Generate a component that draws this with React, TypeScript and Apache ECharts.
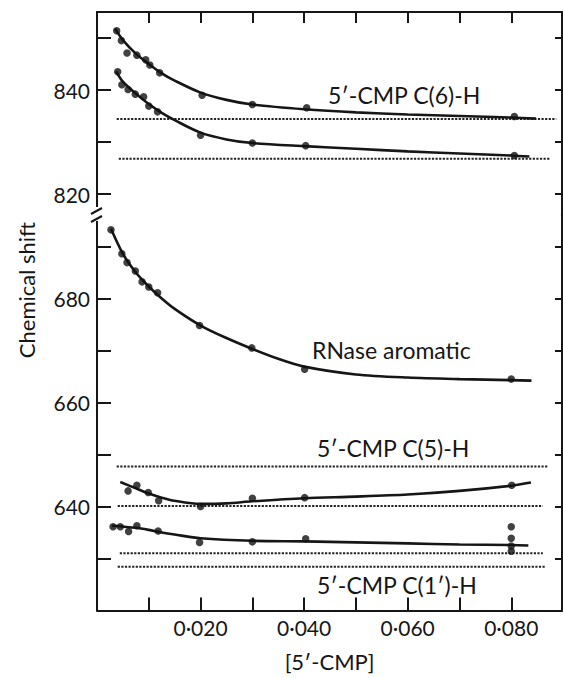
import React, { useEffect, useRef } from "react";
import * as echarts from "echarts";

// ---------- data ----------
// x = [5'-CMP] (M), y = chemical shift
const xMajorLabels = [0.02, 0.04, 0.06, 0.08];
const upperYTicks = [820, 830, 840, 850];
const upperYLabels = [820, 840];
const lowerYTicks = [630, 640, 650, 660, 670, 680, 690];
const lowerYLabels = [640, 660, 680];

// 5'-CMP C(6)-H, upper curve
const c6UpperDots = [
  [0.0038, 851.4], [0.0047, 849.5], [0.0058, 847.1], [0.0077, 846.7], [0.0094, 845.8],
  [0.0102, 844.8], [0.0121, 843.3], [0.0203, 839.0], [0.03, 837.2], [0.0405, 836.6], [0.0806, 834.9],
];
const c6UpperFit = [
  [0.0035, 851.8], [0.005, 849.6], [0.0075, 847.0], [0.01, 845.0], [0.0125, 843.2], [0.015, 841.8],
  [0.02, 839.5], [0.025, 838.1], [0.03, 837.2], [0.04, 836.3], [0.05, 835.7], [0.06, 835.3],
  [0.07, 835.0], [0.08, 834.7], [0.0848, 834.5],
];
// 5'-CMP C(6)-H, lower curve
const c6LowerDots = [
  [0.004, 843.5], [0.0048, 841.0], [0.006, 840.1], [0.0074, 839.2], [0.009, 838.7],
  [0.01, 836.9], [0.0117, 835.8], [0.02, 831.3], [0.03, 829.8], [0.0403, 829.3], [0.0806, 827.4],
];
const c6LowerFit = [
  [0.0037, 843.6], [0.005, 841.6], [0.0075, 839.3], [0.01, 837.3], [0.0125, 835.6], [0.015, 834.2],
  [0.02, 831.8], [0.025, 830.5], [0.03, 829.8], [0.04, 829.2], [0.05, 828.7], [0.06, 828.2],
  [0.07, 827.8], [0.08, 827.4], [0.0835, 827.2],
];
// RNase aromatic
const rnaseDots = [
  [0.0027, 693.2], [0.0048, 688.6], [0.0058, 686.9], [0.0074, 685.3], [0.0087, 683.2],
  [0.01, 682.2], [0.0117, 681.1], [0.0198, 674.8], [0.0299, 670.5], [0.0401, 666.4], [0.08, 664.5],
];
const rnaseFit = [
  [0.0027, 693.4], [0.005, 688.6], [0.0075, 685.0], [0.01, 682.3], [0.0125, 680.0], [0.015, 678.0],
  [0.02, 674.8], [0.025, 672.4], [0.03, 670.3], [0.035, 668.4], [0.04, 666.9], [0.05, 665.4],
  [0.06, 664.8], [0.07, 664.5], [0.08, 664.3], [0.0839, 664.2],
];
// 5'-CMP C(5)-H
const c5Dots = [
  [0.006, 643.0], [0.0077, 644.1], [0.0099, 642.7], [0.0119, 641.1], [0.02, 640.0],
  [0.03, 641.6], [0.0401, 641.7], [0.0801, 644.1],
];
const c5Fit = [
  [0.0045, 644.7], [0.0075, 643.5], [0.01, 642.5], [0.0125, 641.7], [0.015, 641.1], [0.02, 640.5],
  [0.025, 640.6], [0.03, 641.0], [0.04, 641.6], [0.05, 641.9], [0.06, 642.3], [0.07, 643.0],
  [0.08, 644.0], [0.0838, 644.6],
];
// 5'-CMP C(1')-H
const c1Dots = [
  [0.0031, 636.1], [0.0045, 636.1], [0.0061, 635.2], [0.0077, 636.3], [0.0118, 635.3],
  [0.0198, 633.1], [0.03, 633.2], [0.0403, 633.8], [0.08, 636.1], [0.08, 633.9], [0.08, 632.4], [0.08, 631.4],
];
const c1Fit = [
  [0.0029, 636.3], [0.0075, 635.9], [0.01, 635.5], [0.0125, 635.0], [0.015, 634.6], [0.02, 633.9],
  [0.03, 633.4], [0.04, 633.3], [0.05, 633.1], [0.06, 632.9], [0.07, 632.7], [0.08, 632.6], [0.0833, 632.5],
];

// dotted limiting-shift reference lines
const upperRefLevels = [834.4, 826.8];
const upperRefStart = [0.0038, 0.0042];
const upperRefEnd = [0.0887, 0.0874];
const lowerRefLevels = [647.7, 640.1, 631.0, 628.4];
const lowerRefStart = [0.0038, 0.004, 0.0044, 0.004];
const lowerRefEnd = [0.0872, 0.0861, 0.0861, 0.0866];

const curveLabels = ["5′-CMP C(6)-H", "RNase aromatic", "5′-CMP C(5)-H", "5′-CMP C(1′)-H"];

// ---------- styling ----------
const INK = "#161616";
const FONT = "Lato";
const X_MAX = 0.0898;

function fit(data: number[][], xi: number, yi: number) {
  return {
    type: "line", xAxisIndex: xi, yAxisIndex: yi, data, smooth: 0.3, symbol: "none",
    lineStyle: { color: INK, width: 2.6 }, silent: true, z: 3,
  };
}
function dots(data: number[][], xi: number, yi: number) {
  return {
    type: "scatter", xAxisIndex: xi, yAxisIndex: yi, data, symbol: "circle", symbolSize: 7.5,
    itemStyle: { color: "#111" }, z: 4,
  };
}
function refLine(level: number, x0: number, x1: number, xi: number, yi: number) {
  return {
    type: "line", xAxisIndex: xi, yAxisIndex: yi, data: [[x0, level], [x1, level]], symbol: "none",
    lineStyle: { color: "#222", width: 2, type: [2.2, 1.4] }, silent: true, z: 2,
  };
}

const axisLineStyle = { show: true, lineStyle: { color: INK, width: 2 } };

function buildOption() {
  const series: any[] = [
    fit(c6UpperFit, 0, 0), dots(c6UpperDots, 0, 0),
    fit(c6LowerFit, 0, 0), dots(c6LowerDots, 0, 0),
    fit(rnaseFit, 1, 2), dots(rnaseDots, 1, 2),
    fit(c5Fit, 1, 2), dots(c5Dots, 1, 2),
    fit(c1Fit, 1, 2), dots(c1Dots, 1, 2),
  ];
  upperRefLevels.forEach((l, i) => series.push(refLine(l, upperRefStart[i], upperRefEnd[i], 0, 0)));
  lowerRefLevels.forEach((l, i) => series.push(refLine(l, lowerRefStart[i], lowerRefEnd[i], 1, 2)));

  const labelPos = [
    [328, 95], [312, 350], [317, 448], [317, 585],
  ];

  return {
    animation: false,
    backgroundColor: "#ffffff",
    grid: [
      { left: 97, width: 465, top: 12, height: 202.8 },
      { left: 97, width: 465, top: 215.3, height: 395.2 },
    ],
    xAxis: [
      {
        gridIndex: 0, type: "value", position: "top", min: 0, max: X_MAX, interval: 0.01,
        axisLine: axisLineStyle,
        axisTick: { show: true, inside: true, length: 11, lineStyle: { color: INK, width: 2 } },
        axisLabel: { show: false }, splitLine: { show: false },
      },
      {
        gridIndex: 1, type: "value", position: "bottom", min: 0, max: X_MAX, interval: 0.01,
        axisLine: axisLineStyle,
        axisTick: { show: true, inside: true, length: 13, lineStyle: { color: INK, width: 2 } },
        axisLabel: {
          show: true, customValues: xMajorLabels, color: INK, fontFamily: FONT, fontSize: 21, margin: 6,
          formatter: (v: number) => "0·" + String(Math.round(v * 1000)).padStart(3, "0"),
        },
        splitLine: { show: false },
        name: "[5′-CMP]", nameLocation: "middle", nameGap: 40,
        nameTextStyle: { color: INK, fontFamily: FONT, fontSize: 22 },
      },
    ],
    yAxis: [
      {
        gridIndex: 0, type: "value", position: "left", min: 816, max: 855,
        axisLine: axisLineStyle,
        axisTick: { show: true, inside: true, length: 14, customValues: upperYTicks, lineStyle: { color: INK, width: 2 } },
        axisLabel: { show: true, customValues: upperYLabels, color: INK, fontFamily: FONT, fontSize: 21, margin: 7 },
        splitLine: { show: false },
      },
      {
        gridIndex: 0, type: "value", position: "right", min: 816, max: 855,
        axisLine: axisLineStyle,
        axisTick: { show: true, inside: true, length: 7, customValues: upperYTicks, lineStyle: { color: INK, width: 2 } },
        axisLabel: { show: false }, splitLine: { show: false },
      },
      {
        gridIndex: 1, type: "value", position: "left", min: 620, max: 696,
        axisLine: axisLineStyle,
        axisTick: { show: true, inside: true, length: 14, customValues: lowerYTicks, lineStyle: { color: INK, width: 2 } },
        axisLabel: { show: true, customValues: lowerYLabels, color: INK, fontFamily: FONT, fontSize: 21, margin: 7 },
        splitLine: { show: false },
      },
      {
        gridIndex: 1, type: "value", position: "right", min: 620, max: 696,
        axisLine: axisLineStyle,
        axisTick: { show: true, inside: true, length: 7, customValues: lowerYTicks, lineStyle: { color: INK, width: 2 } },
        axisLabel: { show: false }, splitLine: { show: false },
      },
    ],
    series,
    graphic: [
      {
        type: "text", x: 26, y: 290, rotation: Math.PI / 2, z: 50,
        style: { text: "Chemical shift", font: `22px ${FONT}`, fill: INK, align: "center", verticalAlign: "middle" },
      },
      ...curveLabels.map((t, i) => ({
        type: "text", x: labelPos[i][0], y: labelPos[i][1], z: 50,
        style: { text: t, font: `23px ${FONT}`, fill: INK, align: "left", verticalAlign: "middle" },
      })),
      { type: "rect", shape: { x: 88, y: 207, width: 16, height: 14 }, style: { fill: "#ffffff" }, z: 100 },
      { type: "line", shape: { x1: 91, y1: 214, x2: 102, y2: 208 }, style: { stroke: INK, lineWidth: 2 }, z: 101 },
      { type: "line", shape: { x1: 91, y1: 222, x2: 102, y2: 216 }, style: { stroke: INK, lineWidth: 2 }, z: 101 },
    ],
  };
}

export default function App() {
  const ref = useRef<HTMLDivElement>(null);
  useEffect(() => {
    const chart = echarts.init(ref.current!, null, { renderer: "svg" });
    chart.setOption(buildOption() as any);
    return () => chart.dispose();
  }, []);
  return (
    <div
      ref={ref}
      style={{ position: "fixed", left: 0, top: 0, width: 563, height: 678, background: "#fff" }}
    />
  );
}
